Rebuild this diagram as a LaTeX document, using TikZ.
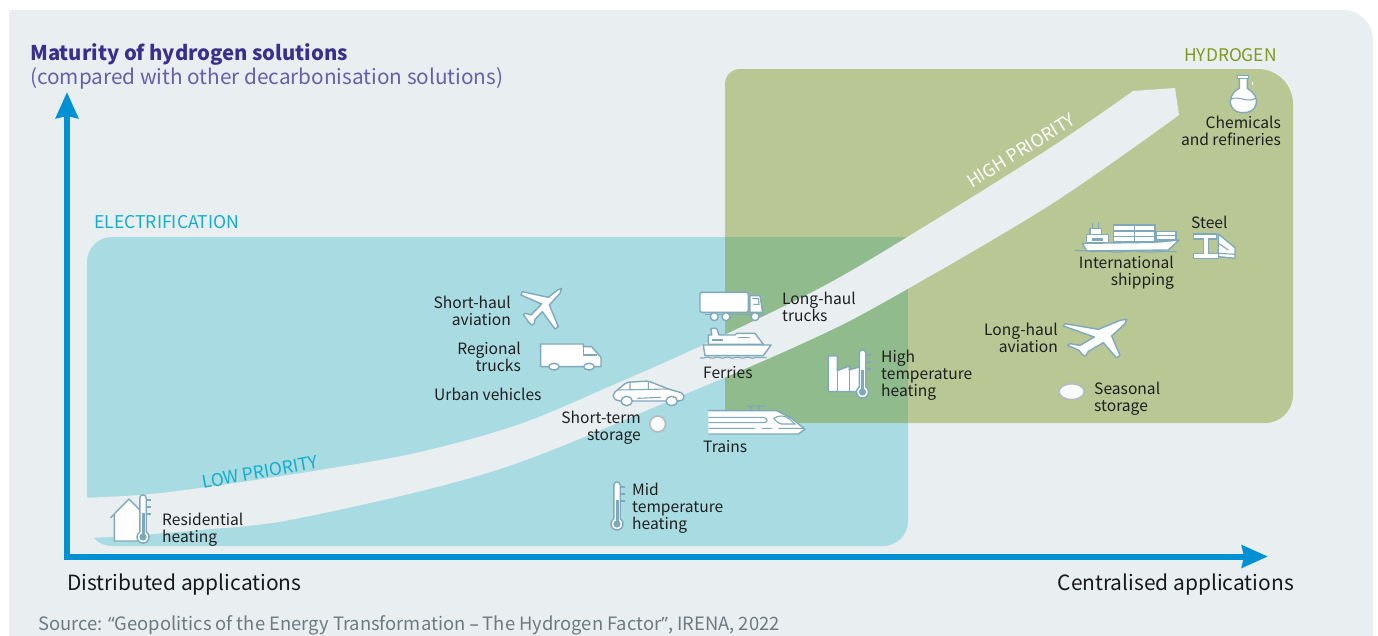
\documentclass[tikz,border=0pt]{standalone}
\usepackage{fontspec}
\setmainfont{Noto Sans CJK SC}
\newfontfamily\qf{Noto Sans}
\usetikzlibrary{arrows.meta}
\definecolor{bgc}{HTML}{E9EEF1}
\definecolor{elc}{HTML}{A9DBE2}
\definecolor{hyc}{HTML}{B9C795}
\definecolor{ovc}{HTML}{90BB8C}
\definecolor{axc}{HTML}{0091D5}
\definecolor{icc}{HTML}{7FA8BA}
\definecolor{ttl}{HTML}{3A2F8C}
\definecolor{ttm}{HTML}{6361AC}
\definecolor{cyt}{HTML}{14AECB}
\definecolor{olt}{HTML}{7D9A1E}
\definecolor{srcc}{HTML}{6D7A80}
\definecolor{stc}{HTML}{B7BBBD}
\tikzset{
 lab/.style={inner sep=0pt,font=\fontsize{15.6}{17.2}\selectfont,text=black!88},
 labl/.style={lab,anchor=west,align=left},
 labr/.style={lab,anchor=east,align=right},
 big/.style={inner sep=0pt,font=\fontsize{20.95}{22}\selectfont,text=black!90},
 ico/.style={fill=white,draw=icc,line width=1.4pt,line join=round},
 tln/.style={draw=icc,line width=1.1pt},
 axis/.style={draw=axc,line width=6pt,-{Stealth[length=26pt,width=22pt,inset=2pt]}},
 zz/.style={shift={#1},x=.3333pt,y=-.3333pt},
}
\newcommand{\thermo}[3]{% bulb x, bulb y, fill height
 \draw[tln] (#1+4,#2-37) -- (#1+8,#2-37) (#1+4,#2-30) -- (#1+8,#2-30) (#1+4,#2-23) -- (#1+8,#2-23);
 \draw[ico] (#1-3.2,#2-5.1) -- (#1-3.2,#2-39) arc[start angle=180,end angle=360,radius=3.2] -- (#1+3.2,#2-5.1) arc[start angle=-58,end angle=238,radius=6] -- cycle;
 \fill[icc] (#1,#2) circle[radius=3.6];
 \fill[icc] (#1-1.5,#2) rectangle (#1+1.5,#2-#3);
}
\begin{document}
\begin{tikzpicture}[x=1pt,y=-1pt]
\useasboundingbox (0,0) rectangle (1378,635);
\fill[bgc] (9,640) -- (9,10) [rounded corners=30pt] -- (1373,10) [sharp corners] -- (1373,640) -- cycle;
\fill[elc,rounded corners=25pt] (87,237) -- (908,237) -- (908,546) -- (87,546) -- cycle;
\fill[hyc] (725,423) [rounded corners=15pt] -- (725,69) [rounded corners=35pt] -- (1293,69) [rounded corners=28pt] -- (1293,423) [sharp corners] -- cycle;
\fill[ovc] (725,237) rectangle (908,423);
% band
\fill[bgc] plot[smooth,tension=.55] coordinates {(80,498) (140,495) (200,488) (320,470) (420,452) (520,424) (613,385) (703,345) (820,288) (909,236) (1050,148) (1133,91)}
 -- (1175,88) -- (1179,115)
 -- plot[smooth,tension=.55] coordinates {(1179,115) (1050,205) (888,300) (810,340) (683,395) (497,470) (300,518) (200,530) (110,537) (80,538)} -- cycle;
% axes
\coordinate (o1) at (67,559.5);
\coordinate (yt) at (67,92);
\coordinate (o2) at (64,556.5);
\coordinate (xt) at (1268,556.5);
\draw[axis] (o1) -- (yt);
\draw[axis] (o2) -- (xt);
% texts
\node[inner sep=0,anchor=west,text=ttl,font=\fontsize{20.3}{22}\selectfont\bfseries] (t1) at (30,54.5) {Maturity of hydrogen solutions};
\node[inner sep=0,anchor=west,text=ttm,font=\fontsize{20.75}{22}\selectfont] (t2) at (30,78.5) {(compared with other decarbonisation solutions)};
\node[inner sep=0,anchor=west,text=cyt,font=\fontsize{17.6}{18}\selectfont] (e) at (94,222) {ELECTRIFICATION};
\node[inner sep=0,anchor=east,text=olt,font=\fontsize{17.4}{18}\selectfont] (h) at (1277,55) {HYDROGEN};
\node[inner sep=0,rotate=10,text=cyt,font=\fontsize{17.6}{18}\selectfont] (lp) at (260,472) {LOW PRIORITY};
\node[inner sep=0,rotate=32,text=white,font=\fontsize{17.6}{18}\selectfont] (hp) at (1021,150.5) {HIGH PRIORITY};
\node[big,anchor=west] (da) at (67,585) {Distributed applications};
\node[big,anchor=east] (ca) at (1294,585) {Centralised applications};
\node[inner sep=0,anchor=west,text=srcc,font=\fontsize{18.4}{20}\selectfont] (src) at (38,625.5) {Source: {\qf “}Geopolitics of the Energy Transformation {\qf –} The Hydrogen Factor{\qf ”}, IRENA, 2022};
% short haul plane
\begin{scope}[zz={(515,280)}]
\draw[ico] (140,25) -- (135,40) -- (103,75) -- (130,140) -- (120,147) -- (82,95) -- (60,118) -- (58,130) -- (50,135) -- (40,125) -- (25,103) -- (32,100) -- (48,105) -- (80,72) -- (18,45) -- (22,35) -- (100,52) -- (128,30) -- cycle;
\end{scope}
% long truck and ferry
\begin{scope}[zz={(695,285)}]
\draw[ico,rounded corners=1.5pt] (15,22) rectangle (160,82);
\draw[ico] (165,32) -- (195,32) -- (203,82) -- (165,82) -- cycle;
\draw[tln] (172,40) -- (190,40) -- (192,58) -- (175,58);
\draw[ico] (30,88) -- (210,88);
\foreach \q in {58,93,180} \draw[ico] (\q,95) circle[radius=12];
\draw[ico] (50,150) -- (48,130) -- (65,130) -- (72,150) -- (120,150) -- (125,145) -- (180,145) -- (195,165) -- (205,178) -- (40,178) -- (40,150) -- cycle;
\draw[tln] (50,165) -- (85,165) (130,157) -- (165,157);
\draw[ico] (25,180) -- (228,180) -- (205,212) -- (30,212) -- cycle;
\draw[tln] (15,218) .. controls (25,224) and (35,212) .. (45,218) .. controls (55,224) and (65,212) .. (75,218) .. controls (85,224) and (95,212) .. (105,218) .. controls (115,224) and (125,212) .. (135,218) .. controls (145,224) and (155,212) .. (165,218) .. controls (175,224) and (185,212) .. (195,218) -- (215,218);
\end{scope}
% regional truck
\begin{scope}[zz={(420,270)}]
\draw[ico] (362,222) -- (490,222) -- (490,230) -- (515,230) -- (543,262) -- (543,290) -- (362,290) -- cycle;
\draw[tln] (490,230) -- (490,255) -- (530,255);
\draw[ico] (402,290) ellipse[x radius=16,y radius=10];
\draw[ico] (507,290) ellipse[x radius=16,y radius=10];
\draw[fill=white!70!bgc,draw=stc,line width=1.7pt] (713,462) circle[radius=24];
\end{scope}
% car
\begin{scope}[zz={(605,375)}]
\draw[ico,rounded corners=2pt] (25,55) -- (65,22) -- (130,18) -- (190,42) -- (235,55) -- (238,72) -- (225,78) -- (40,78) -- (25,70) -- cycle;
\draw[tln] (40,45) -- (190,42) (75,22) -- (75,44) (130,20) -- (130,43) (97,70) -- (168,67);
\draw[ico] (65,78) ellipse[x radius=17,y radius=14];
\draw[ico] (200,78) ellipse[x radius=17,y radius=14];
\end{scope}
% train
\begin{scope}[zz={(700,400)}]
\draw[tln] (140,18) -- (195,18) (155,18) -- (150,32) (180,18) -- (175,32);
\fill[white] (25,32) -- (230,32) -- (275,55) -- (315,88) -- (295,102) -- (25,102) -- cycle;
\draw[ico,fill=none] (25,32) -- (230,32) -- (275,55) -- (315,88) -- (295,102) -- (25,102);
\draw[tln] (25,52) -- (190,52) .. controls (205,55) and (205,68) .. (190,68) -- (25,68) (25,85) -- (165,85) (185,85) -- (215,85) (235,85) -- (310,85);
\draw[tln] (222,55) .. controls (235,45) and (255,45) .. (270,58) -- (285,72) -- (245,72) .. controls (235,70) and (225,62) .. (222,55) -- cycle;
\end{scope}
% flask
\begin{scope}[zz={(1050,60)}]
\draw[ico] (568,52) -- (568,85) .. controls (545,95) and (535,125) .. (545,140) .. controls (553,155) and (565,158) .. (580,158) .. controls (600,158) and (612,150) .. (618,135) .. controls (625,115) and (610,95) .. (592,85) -- (592,52) -- cycle;
\draw[ico] (563,47) rectangle (596,55);
\draw[tln] (542,118) .. controls (565,105) and (590,130) .. (617,115);
\draw[draw=white,line width=1pt] (608,65) -- (608,74);
\end{scope}
% ship and steel
\begin{scope}[zz={(1075,215)}]
\draw[tln] (52,25) -- (52,40) (70,22) -- (70,40);
\draw[ico] (45,40) rectangle (80,58);
\draw[ico] (35,58) rectangle (100,82);
\draw[tln] (52,70) rectangle (82,75);
\draw[ico] (115,30) rectangle (240,80);
\draw[tln] (178,30) -- (178,80) (115,48) -- (240,48) (115,65) -- (240,65);
\draw[ico] (243,50) rectangle (303,75);
\draw[tln] (243,62) -- (303,62);
\draw[ico] (22,85) -- (240,82) -- (312,75) -- (280,105) -- (35,108) -- cycle;
\draw[tln] (0,105) .. controls (15,112) and (30,102) .. (50,110) .. controls (90,104) and (110,115) .. (150,110) .. controls (190,104) and (210,115) .. (250,110) -- (305,110);
\draw[ico] (430,57) -- (480,98) -- (480,130) -- (430,125) -- cycle;
\draw[tln] (430,85) -- (460,105) (430,115) -- (480,118);
\draw[ico] (355,57) -- (425,57) -- (425,72) -- (400,72) -- (400,115) -- (430,115) -- (430,130) -- (355,130) -- (355,115) -- (385,115) -- (385,72) -- (355,72) -- cycle;
\end{scope}
% long haul plane
\begin{scope}[zz={(1055,312)}]
\draw[ico] (215,22) -- (210,35) -- (170,72) -- (195,130) -- (185,138) -- (145,92) -- (100,118) -- (92,132) -- (82,128) -- (72,115) -- (38,100) -- (45,95) -- (75,100) -- (118,75) -- (25,42) -- (30,35) -- (130,52) -- (195,25) -- cycle;
\end{scope}
\begin{scope}[zz={(810,300)}]
\draw[fill=white!70!bgc,draw=stc,line width=1.7pt] (785,275) ellipse[x radius=38,y radius=24];
\draw[ico] (55,275) -- (55,168) -- (82,168) -- (82,212) -- (118,198) -- (118,210) -- (150,200) -- (150,275) -- cycle;
\draw[tln] (82,212) -- (82,275) (118,210) -- (118,275);
\end{scope}
\thermo{862.5}{392}{22}
\thermo{617}{524}{24}
\begin{scope}[zz={(60,470)}]
\draw[ico] (152,143) -- (207,87) -- (240,120) -- (240,213) -- (163,213) -- (163,132);
\end{scope}
\thermo{143}{537}{24}
% labels
\node[labr] (l1) at (511,310.5) {Short-haul\\aviation};
\node[labr] (l2) at (521,357) {Regional\\trucks};
\node[labl] (l3) at (434,394) {Urban vehicles};
\node[labr] (l4) at (641,427.5) {Short-term\\storage};
\node[labl] (l5) at (782,307) {Long-haul\\trucks};
\node[labl] (l6) at (703,372.5) {Ferries};
\node[labl] (l7) at (703,447) {Trains};
\node[labl] (l8) at (881,375) {High\\temperature\\heating};
\node[labl] (l9) at (632,508) {Mid\\temperature\\heating};
\node[labl] (l10) at (162,530) {Residential\\heating};
\node[labr] (l11) at (1058,337.5) {Long-haul\\aviation};
\node[labl] (l12) at (1094,398.5) {Seasonal\\storage};
\node[labl] (l13) at (1191,222) {Steel};
\node[labr] (l14) at (1174,272.5) {International\\shipping};
\node[labr] (l15) at (1281,131) {Chemicals\\and refineries};
\end{tikzpicture}
\end{document}
